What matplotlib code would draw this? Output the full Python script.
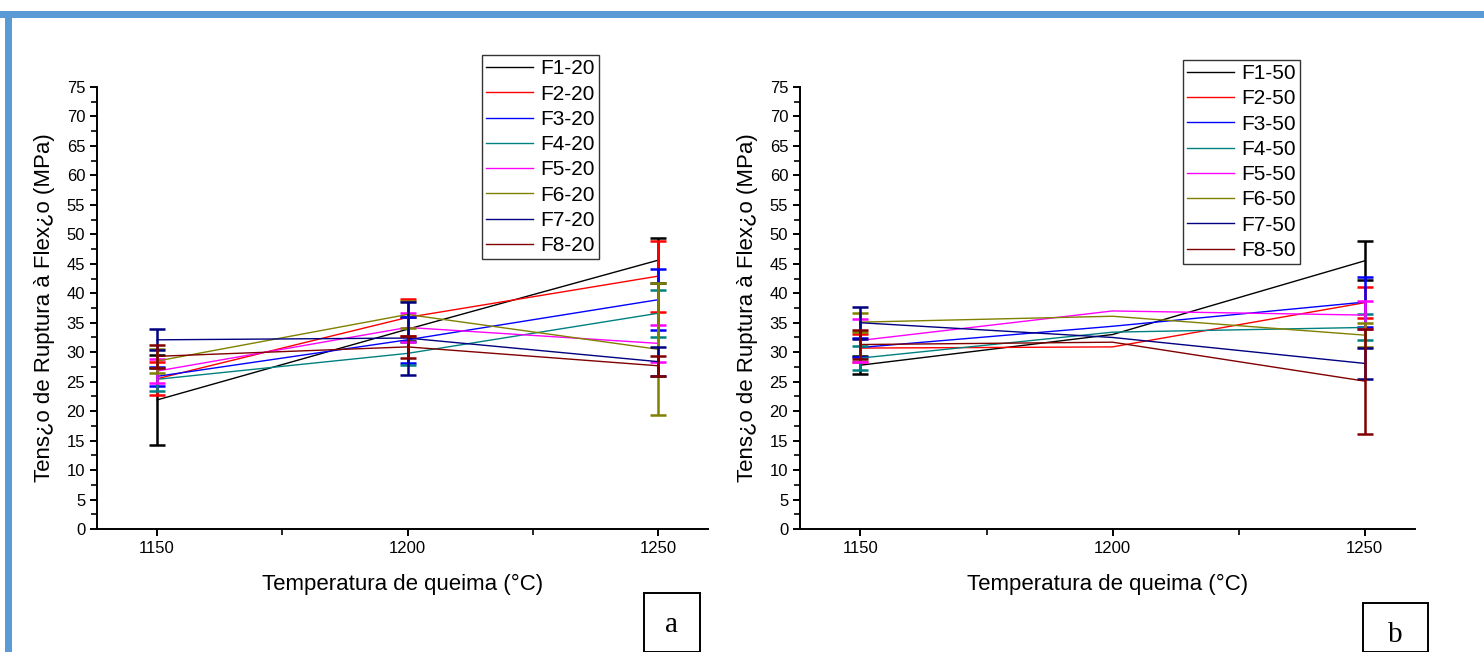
import matplotlib
matplotlib.use('Agg')
import matplotlib.pyplot as plt
from matplotlib.patches import Rectangle
from matplotlib.lines import Line2D
from matplotlib.ticker import MultipleLocator

plt.rcParams['font.family'] = ['Liberation Sans', 'DejaVu Sans']

# temperaturas de queima
temps = [1150, 1200, 1250]

# series com 20 (painel a)
labels_a = ['F1-20', 'F2-20', 'F3-20', 'F4-20', 'F5-20', 'F6-20', 'F7-20', 'F8-20']
vals_a = [
    [21.9, 33.9, 45.6],
    [25.5, 35.9, 42.9],
    [25.9, 32.1, 38.9],
    [25.4, 29.8, 36.6],
    [26.8, 34.2, 31.5],
    [28.5, 36.4, 30.5],
    [32.1, 32.4, 28.4],
    [29.3, 30.9, 27.7],
]
err_a = [
    [7.7, 2.0, 3.8],
    [2.8, 3.1, 6.0],
    [1.6, 3.9, 5.2],
    [2.0, 2.0, 4.0],
    [2.1, 2.5, 3.1],
    [2.1, 2.3, 11.2],
    [1.8, 6.2, 2.4],
    [1.9, 1.8, 1.7],
]

# series com 50 (painel b) - sem barra de erro a 1200
labels_b = ['F1-50', 'F2-50', 'F3-50', 'F4-50', 'F5-50', 'F6-50', 'F7-50', 'F8-50']
vals_b = [
    [27.8, 33.0, 45.5],
    [30.7, 30.9, 38.4],
    [30.8, 34.4, 38.5],
    [29.0, 33.4, 34.2],
    [32.0, 37.0, 36.3],
    [35.1, 36.1, 32.9],
    [35.0, 32.5, 28.1],
    [31.3, 31.7, 25.1],
]
err_b = [
    [1.5, None, 3.3],
    [2.4, None, 2.6],
    [1.6, None, 4.2],
    [2.0, None, 2.2],
    [3.6, None, 2.4],
    [1.6, None, 2.1],
    [2.7, None, 2.6],
    [2.5, None, 8.9],
]

cores = ['#000000', '#FF0000', '#0000FF', '#008080', '#FF00FF', '#808000', '#000080', '#800000']


def painel(ax, vals, errs, labels, leg_xy):
    for v, e, lab, c in zip(vals, errs, labels, cores):
        ax.plot(temps, v, color=c, lw=1.0)
        t_e = [t for t, x in zip(temps, e) if x is not None]
        v_e = [y for y, x in zip(v, e) if x is not None]
        e_e = [x for x in e if x is not None]
        ax.errorbar(t_e, v_e, yerr=e_e, fmt='none', ecolor=c, elinewidth=1.8,
                    capsize=6, capthick=1.8)
    ax.set_xlim(1138, 1260)
    ax.set_ylim(0, 75)
    ax.set_xticks(temps)
    ax.xaxis.set_minor_locator(MultipleLocator(25))
    ax.yaxis.set_major_locator(MultipleLocator(5))
    ax.yaxis.set_minor_locator(MultipleLocator(2.5))
    ax.spines['top'].set_visible(False)
    ax.spines['right'].set_visible(False)
    for s in ['left', 'bottom']:
        ax.spines[s].set_linewidth(1.4)
    ax.tick_params(which='major', direction='out', length=5, width=1.4, labelsize=12)
    ax.tick_params(which='minor', direction='out', length=4, width=1.2)
    ax.set_xlabel('Temperatura de queima (°C)', fontsize=16, labelpad=13)
    ax.set_ylabel('Tens¿o de Ruptura à Flex¿o (MPa)', fontsize=16, labelpad=8)
    handles = [Line2D([], [], color=c, lw=1.0) for c in cores]
    leg = ax.legend(handles, labels, loc='upper left', bbox_to_anchor=leg_xy,
                    fontsize=15, frameon=True, fancybox=False, edgecolor='#333333',
                    framealpha=1, handlelength=2.25, handletextpad=0.35,
                    labelspacing=0.3, borderpad=0.2, borderaxespad=0)
    leg.get_frame().set_linewidth(1.0)


fig = plt.figure(figsize=(14.84, 6.52), dpi=100)
W, H = 1484, 652

ax1 = fig.add_axes([97 / W, (H - 529) / H, 611 / W, 442 / H])
ax2 = fig.add_axes([800 / W, (H - 529) / H, 615 / W, 442 / H])

painel(ax1, vals_a, err_a, labels_a, (0.630, 1.072))
painel(ax2, vals_b, err_b, labels_b, (0.623, 1.061))

# moldura azul
azul = '#5B9BD5'
fig.add_artist(Rectangle((0, (H - 18) / H), 1, 7 / H, transform=fig.transFigure,
                         facecolor=azul, edgecolor='none'))
fig.add_artist(Rectangle((5 / W, 0), 7 / W, (H - 11) / H, transform=fig.transFigure,
                         facecolor=azul, edgecolor='none'))

# caixas a / b
for x0, y0, w, lab in [(644, 593, 56, 'a'), (1363, 603, 65, 'b')]:
    fig.add_artist(Rectangle((x0 / W, 0), w / W, (H - y0) / H, transform=fig.transFigure,
                             facecolor='white', edgecolor='black', lw=1.4))
    fig.text((x0 + w / 2) / W, (H - (y0 + 32)) / H, lab, ha='center', va='center',
             fontsize=21, family=['Liberation Serif', 'DejaVu Serif'])

fig.savefig('out.png', dpi=100)
